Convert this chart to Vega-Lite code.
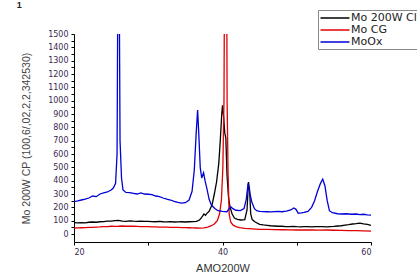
{
  "$schema": "https://vega.github.io/schema/vega-lite/v6.json",
  "width": 297,
  "height": 208,
  "autosize": {"type": "none"},
  "padding": {"left": 74, "top": 34, "right": 46, "bottom": 33},
  "background": "white",
  "title": {"text": "1", "orient": "left", "anchor": "end", "frame": "group", "angle": 0, "align": "left", "baseline": "top", "dx": 0, "dy": -33, "offset": 0, "fontSize": 9, "fontWeight": "bold", "font": "Liberation Sans", "color": "#222"},
  "config": {"view": {"stroke": null}, "font": "Liberation Sans"},
  "data": {"values": [
    {"s":"Mo 200W Cl","x":20.0,"y":85},{"s":"Mo 200W Cl","x":20.5,"y":83},{"s":"Mo 200W Cl","x":21.0,"y":86},{"s":"Mo 200W Cl","x":21.5,"y":84},{"s":"Mo 200W Cl","x":22.0,"y":88},{"s":"Mo 200W Cl","x":22.5,"y":90},{"s":"Mo 200W Cl","x":23.0,"y":88},{"s":"Mo 200W Cl","x":23.5,"y":92},{"s":"Mo 200W Cl","x":24.0,"y":93},{"s":"Mo 200W Cl","x":24.5,"y":97},{"s":"Mo 200W Cl","x":25.0,"y":96},{"s":"Mo 200W Cl","x":25.5,"y":100},{"s":"Mo 200W Cl","x":26.0,"y":102},{"s":"Mo 200W Cl","x":26.5,"y":96},{"s":"Mo 200W Cl","x":27.0,"y":95},{"s":"Mo 200W Cl","x":27.5,"y":98},{"s":"Mo 200W Cl","x":28.0,"y":96},{"s":"Mo 200W Cl","x":28.5,"y":95},{"s":"Mo 200W Cl","x":29.0,"y":97},{"s":"Mo 200W Cl","x":29.5,"y":94},{"s":"Mo 200W Cl","x":30.0,"y":95},{"s":"Mo 200W Cl","x":30.5,"y":93},{"s":"Mo 200W Cl","x":31.0,"y":92},{"s":"Mo 200W Cl","x":31.5,"y":94},{"s":"Mo 200W Cl","x":32.0,"y":92},{"s":"Mo 200W Cl","x":32.5,"y":91},{"s":"Mo 200W Cl","x":33.0,"y":93},{"s":"Mo 200W Cl","x":33.5,"y":90},{"s":"Mo 200W Cl","x":34.0,"y":91},{"s":"Mo 200W Cl","x":34.5,"y":92},{"s":"Mo 200W Cl","x":35.0,"y":90},{"s":"Mo 200W Cl","x":35.5,"y":92},{"s":"Mo 200W Cl","x":36.0,"y":93},{"s":"Mo 200W Cl","x":36.5,"y":95},{"s":"Mo 200W Cl","x":36.9,"y":105},{"s":"Mo 200W Cl","x":37.2,"y":125},{"s":"Mo 200W Cl","x":37.5,"y":150},{"s":"Mo 200W Cl","x":37.7,"y":140},{"s":"Mo 200W Cl","x":37.9,"y":155},{"s":"Mo 200W Cl","x":38.2,"y":170},{"s":"Mo 200W Cl","x":38.6,"y":220},{"s":"Mo 200W Cl","x":38.9,"y":300},{"s":"Mo 200W Cl","x":39.2,"y":390},{"s":"Mo 200W Cl","x":39.5,"y":530},{"s":"Mo 200W Cl","x":39.7,"y":700},{"s":"Mo 200W Cl","x":39.9,"y":900},{"s":"Mo 200W Cl","x":40.0,"y":965},{"s":"Mo 200W Cl","x":40.15,"y":880},{"s":"Mo 200W Cl","x":40.3,"y":760},{"s":"Mo 200W Cl","x":40.45,"y":720},{"s":"Mo 200W Cl","x":40.6,"y":450},{"s":"Mo 200W Cl","x":40.8,"y":280},{"s":"Mo 200W Cl","x":41.0,"y":205},{"s":"Mo 200W Cl","x":41.3,"y":150},{"s":"Mo 200W Cl","x":41.6,"y":120},{"s":"Mo 200W Cl","x":42.0,"y":110},{"s":"Mo 200W Cl","x":42.5,"y":105},{"s":"Mo 200W Cl","x":43.0,"y":108},{"s":"Mo 200W Cl","x":43.3,"y":180},{"s":"Mo 200W Cl","x":43.5,"y":390},{"s":"Mo 200W Cl","x":43.65,"y":330},{"s":"Mo 200W Cl","x":43.8,"y":150},{"s":"Mo 200W Cl","x":44.0,"y":108},{"s":"Mo 200W Cl","x":44.4,"y":90},{"s":"Mo 200W Cl","x":45.0,"y":72},{"s":"Mo 200W Cl","x":45.5,"y":68},{"s":"Mo 200W Cl","x":46.0,"y":65},{"s":"Mo 200W Cl","x":46.5,"y":62},{"s":"Mo 200W Cl","x":47.0,"y":60},{"s":"Mo 200W Cl","x":47.5,"y":58},{"s":"Mo 200W Cl","x":48.0,"y":58},{"s":"Mo 200W Cl","x":48.5,"y":56},{"s":"Mo 200W Cl","x":49.0,"y":55},{"s":"Mo 200W Cl","x":49.5,"y":57},{"s":"Mo 200W Cl","x":50.0,"y":55},{"s":"Mo 200W Cl","x":50.5,"y":54},{"s":"Mo 200W Cl","x":51.0,"y":56},{"s":"Mo 200W Cl","x":51.5,"y":55},{"s":"Mo 200W Cl","x":52.0,"y":54},{"s":"Mo 200W Cl","x":52.5,"y":55},{"s":"Mo 200W Cl","x":53.0,"y":56},{"s":"Mo 200W Cl","x":53.5,"y":55},{"s":"Mo 200W Cl","x":54.0,"y":54},{"s":"Mo 200W Cl","x":54.5,"y":56},{"s":"Mo 200W Cl","x":55.0,"y":57},{"s":"Mo 200W Cl","x":55.5,"y":60},{"s":"Mo 200W Cl","x":56.0,"y":62},{"s":"Mo 200W Cl","x":56.5,"y":66},{"s":"Mo 200W Cl","x":57.0,"y":70},{"s":"Mo 200W Cl","x":57.5,"y":75},{"s":"Mo 200W Cl","x":58.0,"y":78},{"s":"Mo 200W Cl","x":58.5,"y":82},{"s":"Mo 200W Cl","x":59.0,"y":76},{"s":"Mo 200W Cl","x":59.5,"y":72},{"s":"Mo 200W Cl","x":60.0,"y":65},
    {"s":"Mo CG","x":20.0,"y":45},{"s":"Mo CG","x":20.5,"y":46},{"s":"Mo CG","x":21.0,"y":47},{"s":"Mo CG","x":21.5,"y":48},{"s":"Mo CG","x":22.0,"y":50},{"s":"Mo CG","x":22.5,"y":49},{"s":"Mo CG","x":23.0,"y":52},{"s":"Mo CG","x":23.5,"y":53},{"s":"Mo CG","x":24.0,"y":55},{"s":"Mo CG","x":24.5,"y":56},{"s":"Mo CG","x":25.0,"y":58},{"s":"Mo CG","x":25.5,"y":57},{"s":"Mo CG","x":26.0,"y":58},{"s":"Mo CG","x":26.5,"y":60},{"s":"Mo CG","x":27.0,"y":58},{"s":"Mo CG","x":27.5,"y":59},{"s":"Mo CG","x":28.0,"y":58},{"s":"Mo CG","x":28.5,"y":57},{"s":"Mo CG","x":29.0,"y":56},{"s":"Mo CG","x":29.5,"y":56},{"s":"Mo CG","x":30.0,"y":55},{"s":"Mo CG","x":30.5,"y":54},{"s":"Mo CG","x":31.0,"y":54},{"s":"Mo CG","x":31.5,"y":52},{"s":"Mo CG","x":32.0,"y":52},{"s":"Mo CG","x":32.5,"y":51},{"s":"Mo CG","x":33.0,"y":50},{"s":"Mo CG","x":33.5,"y":50},{"s":"Mo CG","x":34.0,"y":49},{"s":"Mo CG","x":34.5,"y":48},{"s":"Mo CG","x":35.0,"y":48},{"s":"Mo CG","x":35.5,"y":47},{"s":"Mo CG","x":36.0,"y":46},{"s":"Mo CG","x":36.5,"y":45},{"s":"Mo CG","x":37.0,"y":44},{"s":"Mo CG","x":37.5,"y":46},{"s":"Mo CG","x":38.0,"y":52},{"s":"Mo CG","x":38.5,"y":62},{"s":"Mo CG","x":38.9,"y":75},{"s":"Mo CG","x":39.3,"y":100},{"s":"Mo CG","x":39.6,"y":150},{"s":"Mo CG","x":39.85,"y":250},{"s":"Mo CG","x":40.05,"y":500},{"s":"Mo CG","x":40.2,"y":1000},{"s":"Mo CG","x":40.35,"y":3000},{"s":"Mo CG","x":40.5,"y":3000},{"s":"Mo CG","x":40.62,"y":1000},{"s":"Mo CG","x":40.75,"y":450},{"s":"Mo CG","x":40.9,"y":150},{"s":"Mo CG","x":41.1,"y":90},{"s":"Mo CG","x":41.4,"y":68},{"s":"Mo CG","x":41.8,"y":55},{"s":"Mo CG","x":42.3,"y":48},{"s":"Mo CG","x":43.0,"y":42},{"s":"Mo CG","x":44.0,"y":38},{"s":"Mo CG","x":45.0,"y":35},{"s":"Mo CG","x":46.0,"y":34},{"s":"Mo CG","x":47.0,"y":33},{"s":"Mo CG","x":48.0,"y":32},{"s":"Mo CG","x":49.0,"y":31},{"s":"Mo CG","x":50.0,"y":30},{"s":"Mo CG","x":51.0,"y":31},{"s":"Mo CG","x":52.0,"y":30},{"s":"Mo CG","x":53.0,"y":29},{"s":"Mo CG","x":54.0,"y":30},{"s":"Mo CG","x":55.0,"y":28},{"s":"Mo CG","x":56.0,"y":27},{"s":"Mo CG","x":57.0,"y":26},{"s":"Mo CG","x":58.0,"y":25},{"s":"Mo CG","x":59.0,"y":24},{"s":"Mo CG","x":60.0,"y":22},
    {"s":"MoOx","x":20.0,"y":242},{"s":"MoOx","x":20.5,"y":248},{"s":"MoOx","x":21.0,"y":255},{"s":"MoOx","x":21.5,"y":262},{"s":"MoOx","x":22.0,"y":270},{"s":"MoOx","x":22.5,"y":285},{"s":"MoOx","x":23.0,"y":280},{"s":"MoOx","x":23.5,"y":300},{"s":"MoOx","x":24.0,"y":308},{"s":"MoOx","x":24.5,"y":315},{"s":"MoOx","x":25.0,"y":330},{"s":"MoOx","x":25.3,"y":345},{"s":"MoOx","x":25.6,"y":380},{"s":"MoOx","x":25.8,"y":600},{"s":"MoOx","x":25.9,"y":1800},{"s":"MoOx","x":26.1,"y":1800},{"s":"MoOx","x":26.2,"y":700},{"s":"MoOx","x":26.4,"y":420},{"s":"MoOx","x":26.6,"y":330},{"s":"MoOx","x":27.0,"y":312},{"s":"MoOx","x":27.5,"y":310},{"s":"MoOx","x":28.0,"y":305},{"s":"MoOx","x":28.5,"y":300},{"s":"MoOx","x":29.0,"y":308},{"s":"MoOx","x":29.5,"y":300},{"s":"MoOx","x":30.0,"y":298},{"s":"MoOx","x":30.5,"y":295},{"s":"MoOx","x":31.0,"y":285},{"s":"MoOx","x":31.5,"y":280},{"s":"MoOx","x":32.0,"y":270},{"s":"MoOx","x":32.5,"y":262},{"s":"MoOx","x":33.0,"y":255},{"s":"MoOx","x":33.5,"y":245},{"s":"MoOx","x":34.0,"y":238},{"s":"MoOx","x":34.5,"y":232},{"s":"MoOx","x":35.0,"y":235},{"s":"MoOx","x":35.5,"y":255},{"s":"MoOx","x":35.9,"y":320},{"s":"MoOx","x":36.2,"y":480},{"s":"MoOx","x":36.45,"y":750},{"s":"MoOx","x":36.65,"y":930},{"s":"MoOx","x":36.8,"y":760},{"s":"MoOx","x":37.0,"y":500},{"s":"MoOx","x":37.2,"y":420},{"s":"MoOx","x":37.45,"y":460},{"s":"MoOx","x":37.65,"y":400},{"s":"MoOx","x":37.9,"y":340},{"s":"MoOx","x":38.2,"y":260},{"s":"MoOx","x":38.5,"y":217},{"s":"MoOx","x":39.0,"y":190},{"s":"MoOx","x":39.4,"y":175},{"s":"MoOx","x":40.0,"y":170},{"s":"MoOx","x":40.6,"y":167},{"s":"MoOx","x":40.9,"y":190},{"s":"MoOx","x":41.1,"y":205},{"s":"MoOx","x":41.4,"y":190},{"s":"MoOx","x":41.8,"y":178},{"s":"MoOx","x":42.4,"y":175},{"s":"MoOx","x":42.9,"y":190},{"s":"MoOx","x":43.2,"y":260},{"s":"MoOx","x":43.45,"y":380},{"s":"MoOx","x":43.7,"y":300},{"s":"MoOx","x":43.95,"y":240},{"s":"MoOx","x":44.3,"y":190},{"s":"MoOx","x":44.6,"y":175},{"s":"MoOx","x":45.0,"y":170},{"s":"MoOx","x":45.5,"y":168},{"s":"MoOx","x":46.0,"y":167},{"s":"MoOx","x":46.5,"y":166},{"s":"MoOx","x":47.0,"y":168},{"s":"MoOx","x":47.5,"y":170},{"s":"MoOx","x":48.0,"y":167},{"s":"MoOx","x":48.6,"y":172},{"s":"MoOx","x":49.2,"y":180},{"s":"MoOx","x":49.6,"y":195},{"s":"MoOx","x":49.9,"y":185},{"s":"MoOx","x":50.2,"y":155},{"s":"MoOx","x":50.6,"y":158},{"s":"MoOx","x":51.0,"y":162},{"s":"MoOx","x":51.5,"y":170},{"s":"MoOx","x":52.0,"y":200},{"s":"MoOx","x":52.4,"y":250},{"s":"MoOx","x":52.8,"y":320},{"s":"MoOx","x":53.2,"y":380},{"s":"MoOx","x":53.5,"y":412},{"s":"MoOx","x":53.8,"y":360},{"s":"MoOx","x":54.1,"y":250},{"s":"MoOx","x":54.4,"y":175},{"s":"MoOx","x":54.8,"y":160},{"s":"MoOx","x":55.5,"y":152},{"s":"MoOx","x":56.0,"y":150},{"s":"MoOx","x":56.7,"y":152},{"s":"MoOx","x":57.3,"y":148},{"s":"MoOx","x":58.0,"y":150},{"s":"MoOx","x":58.5,"y":145},{"s":"MoOx","x":59.0,"y":148},{"s":"MoOx","x":59.5,"y":143},{"s":"MoOx","x":60.0,"y":142}
  ]},
  "mark": {"type": "line", "clip": true, "strokeWidth": 1.3, "interpolate": "linear"},
  "encoding": {
    "x": {"field": "x", "type": "quantitative", "scale": {"domain": [20, 60], "nice": false, "zero": false},
      "axis": {"title": "AMO200W", "values": [20, 30, 40, 50, 60], "format": "d", "labelExpr": "datum.value % 20 === 0 ? datum.label : ''", "grid": false, "domainColor": "#000", "tickColor": "#000", "tickSize": 3, "labelFont": "DejaVu Sans", "labelFontSize": 8, "labelColor": "#3a2a50", "labelPadding": 3, "titleFont": "Liberation Sans", "titleFontSize": 11, "titleFontWeight": "normal", "titleColor": "#333", "titlePadding": 6}},
    "y": {"field": "y", "type": "quantitative", "scale": {"domain": [-60, 1500], "nice": false, "zero": false},
      "axis": {"title": "Mo 200W CP (100,6/,02,2,2,342530)", "values": [0,50,100,150,200,250,300,350,400,450,500,550,600,650,700,750,800,850,900,950,1000,1050,1100,1150,1200,1250,1300,1350,1400,1450,1500], "format": "d", "labelExpr": "datum.value % 100 === 0 ? datum.label : ''", "grid": false, "domainColor": "#000", "tickColor": "#000", "tickSize": 3, "labelFont": "DejaVu Sans", "labelFontSize": 8, "labelColor": "#3a2a50", "labelPadding": 3, "titleFont": "Liberation Sans", "titleFontSize": 10.5, "titleFontWeight": "normal", "titleColor": "#444", "titlePadding": 16}},
    "color": {"field": "s", "type": "nominal", "sort": ["Mo 200W Cl", "Mo CG", "MoOx"],
      "scale": {"domain": ["Mo 200W Cl", "Mo CG", "MoOx"], "range": ["#000000", "#e00000", "#0000d8"]},
      "legend": {"title": null, "orient": "none", "legendX": 244, "legendY": -24, "strokeColor": "#888", "padding": 2, "symbolType": "M-2.9,0H2.9", "symbolSize": 100, "symbolOffset": 9, "symbolStrokeWidth": 1.5, "labelFont": "DejaVu Sans", "labelFontSize": 11, "labelColor": "#222", "labelOffset": 10, "rowPadding": 1}}
  }
}
